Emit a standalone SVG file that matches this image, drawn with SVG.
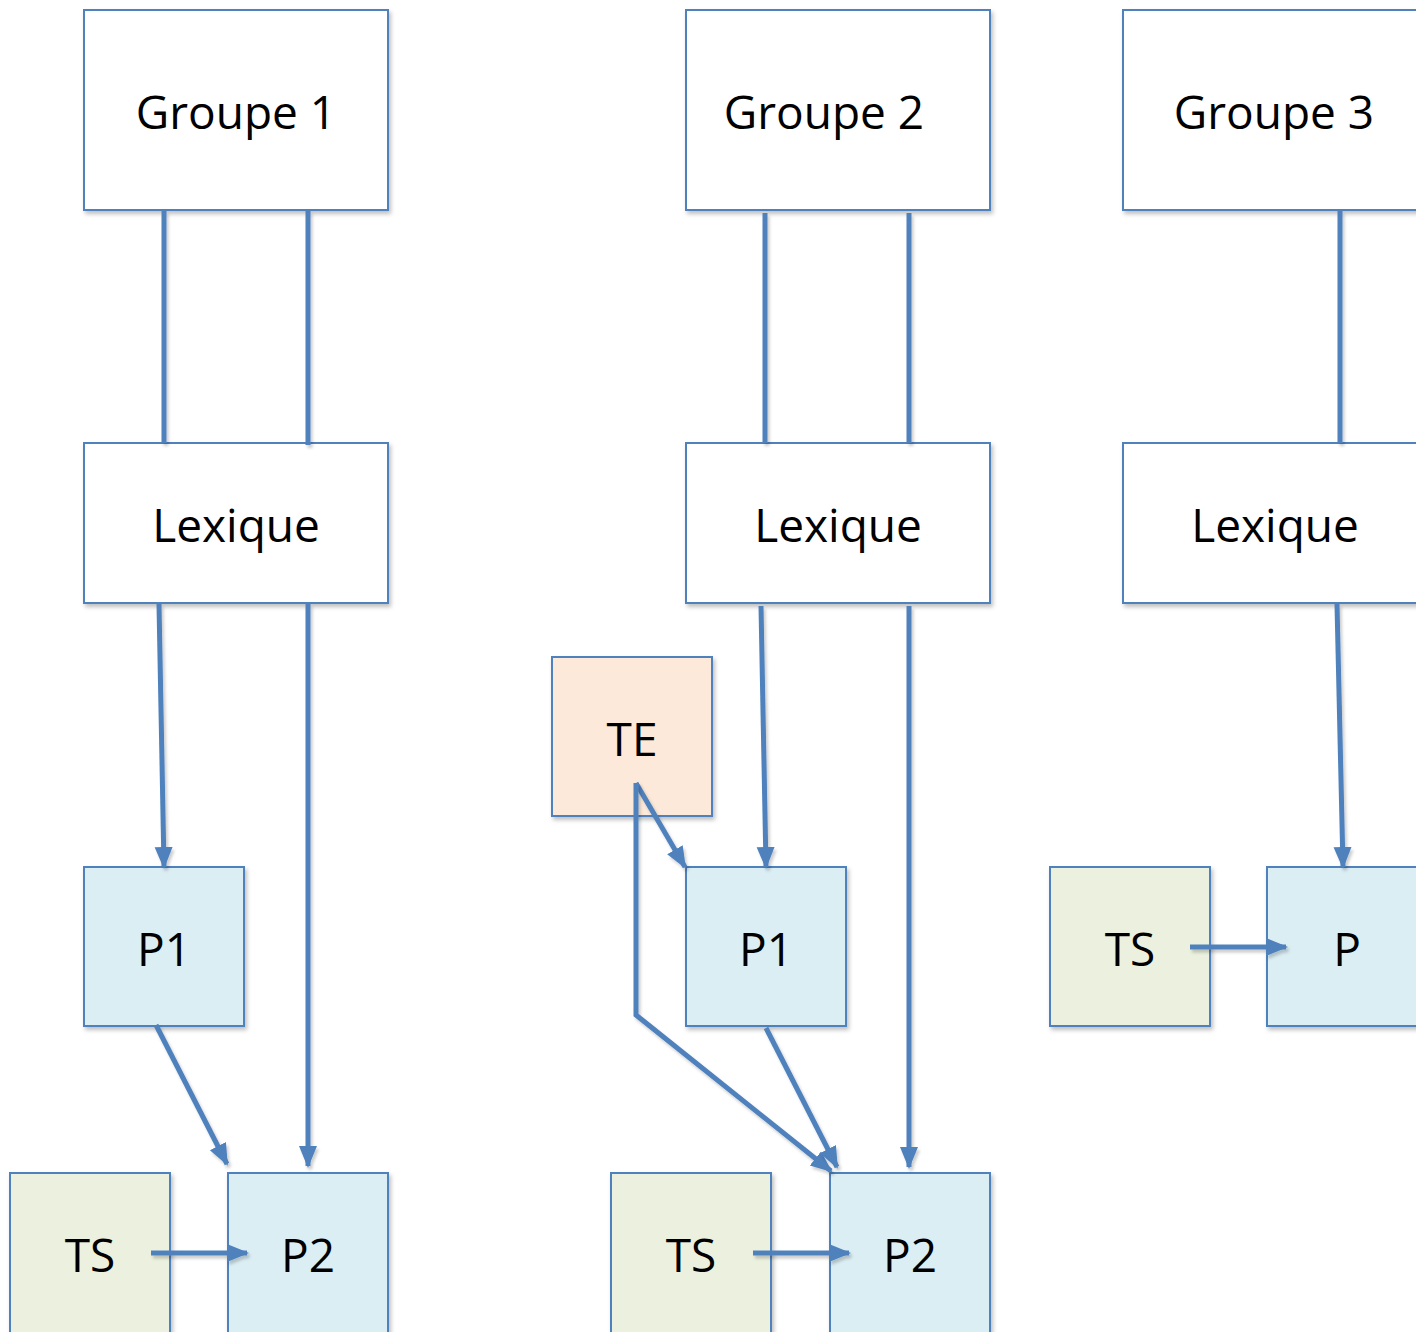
<svg xmlns="http://www.w3.org/2000/svg" width="1416" height="1332" viewBox="0 0 1416 1332">
<style>
.box{stroke:#4f81bd;stroke-width:2;filter:url(#sh)}
.w{fill:#ffffff}.b{fill:#dbeef4}.g{fill:#ebf1de}.o{fill:#fde9d9}
.t{font-family:"Open Sans","Liberation Sans",sans-serif;font-size:46px;fill:#000;text-anchor:middle}
.c{fill:none;stroke:#4f81bd;stroke-width:5;filter:url(#sh2)}
.a{marker-end:url(#ah)}
</style>
<defs>
<filter id="sh" filterUnits="userSpaceOnUse" x="0" y="0" width="1416" height="1332">
<feDropShadow dx="2" dy="3" stdDeviation="2" flood-color="#000" flood-opacity="0.25"/>
</filter>
<filter id="sh2" filterUnits="userSpaceOnUse" x="0" y="0" width="1416" height="1332">
<feDropShadow dx="2" dy="3" stdDeviation="1.5" flood-color="#000" flood-opacity="0.2"/>
</filter>
<marker id="ah" markerUnits="userSpaceOnUse" markerWidth="22" markerHeight="22" viewBox="0 0 22 22" refX="20" refY="11" orient="auto">
<path d="M0,2 L22,11 L0,20 z" fill="#4f81bd"/>
</marker>
</defs>
<g id="g1">
<rect class="box w" x="84" y="10" width="304" height="200"/>
<text class="t" x="236" y="129">Groupe 1</text>
</g>
<g id="g2">
<rect class="box w" x="686" y="10" width="304" height="200"/>
<text class="t" x="824" y="129">Groupe 2</text>
</g>
<g id="g3">
<rect class="box w" x="1123" y="10" width="304" height="200"/>
<text class="t" x="1274" y="129">Groupe 3</text>
</g>
<g id="lex1">
<rect class="box w" x="84" y="443" width="304" height="160"/>
<text class="t" x="236" y="542">Lexique</text>
</g>
<g id="lex2">
<rect class="box w" x="686" y="443" width="304" height="160"/>
<text class="t" x="838" y="542">Lexique</text>
</g>
<g id="lex3">
<rect class="box w" x="1123" y="443" width="304" height="160"/>
<text class="t" x="1275" y="542">Lexique</text>
</g>
<g id="p1a">
<rect class="box b" x="84" y="867" width="160" height="159"/>
<text class="t" x="164" y="966">P1</text>
</g>
<g id="ts1">
<rect class="box g" x="10" y="1173" width="160" height="170"/>
<text class="t" x="90" y="1272">TS</text>
</g>
<g id="p2a">
<rect class="box b" x="228" y="1173" width="160" height="170"/>
<text class="t" x="308" y="1272">P2</text>
</g>
<g id="te">
<rect class="box o" x="552" y="657" width="160" height="159"/>
<text class="t" x="632" y="756">TE</text>
</g>
<g id="p1b">
<rect class="box b" x="686" y="867" width="160" height="159"/>
<text class="t" x="766" y="966">P1</text>
</g>
<g id="ts2">
<rect class="box g" x="611" y="1173" width="160" height="170"/>
<text class="t" x="691" y="1272">TS</text>
</g>
<g id="p2b">
<rect class="box b" x="830" y="1173" width="160" height="170"/>
<text class="t" x="910" y="1272">P2</text>
</g>
<g id="ts3">
<rect class="box g" x="1050" y="867" width="160" height="159"/>
<text class="t" x="1130" y="966">TS</text>
</g>
<g id="p3">
<rect class="box b" x="1267" y="867" width="160" height="159"/>
<text class="t" x="1347" y="966">P</text>
</g>
<g id="connectors">
<path class="c" d="M164,211 L164,443"/>
<path class="c" d="M308,211 L308,445"/>
<path class="c a" d="M159,604 L164,867"/>
<path class="c a" d="M308,604 L308,1166"/>
<path class="c a" d="M156,1025 L227,1164"/>
<path class="c a" d="M151,1253 L247,1253"/>
<path class="c" d="M765,213 L765,443"/>
<path class="c" d="M909,213 L909,443"/>
<path class="c a" d="M761,606 L766,867"/>
<path class="c a" d="M909,606 L909,1167"/>
<path class="c a" d="M636,783 L685,867"/>
<path class="c a" d="M636,783 L636,1015 L831,1171"/>
<path class="c a" d="M766,1028 L837,1167"/>
<path class="c a" d="M753,1253 L849,1253"/>
<path class="c" d="M1340,211 L1340,443"/>
<path class="c a" d="M1337,604 L1343,867"/>
<path class="c a" d="M1190,947 L1286,947"/>
</g>
</svg>
